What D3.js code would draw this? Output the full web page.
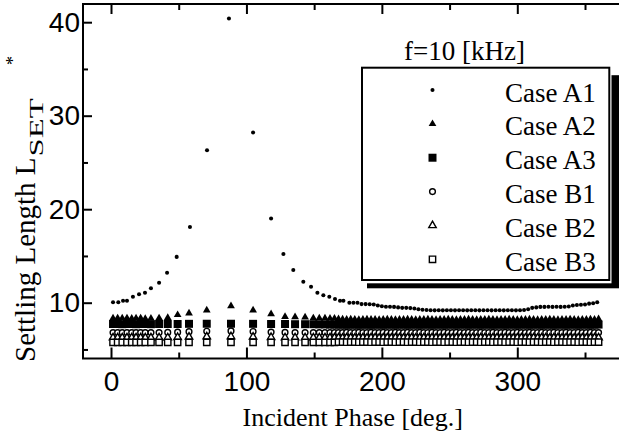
<!DOCTYPE html>
<html>
<head>
<meta charset="utf-8">
<script src="https://cdn.jsdelivr.net/npm/d3@7"></script>
<style>
  html, body { margin: 0; padding: 0; background: #fff; }
  svg { display: block; }
</style>
</head>
<body>
<div id="chart"></div>
<script>
// ---- data ----
// Case A1 has its own phase sampling, the other five cases share one
const phaseA1 = [1.5, 5.4, 8.9, 11.8, 16.2, 20.7, 25.1, 29.5, 35.5, 41.4, 48.5, 58.3, 70.9, 87.1,
  104.9, 118.2, 127.3, 134.6, 142, 147.7, 152.4, 156.8, 161.2, 165.4, 169.1, 171.6, 176, 179,
  182, 185, 188, 191, 194, 197, 200, 203, 206, 209, 212, 215, 218, 221, 224, 227, 230, 233, 236,
  239, 242, 245, 248, 251, 254, 257, 260, 263, 266, 269, 272, 275, 278, 281, 284, 287, 290, 293, 296, 299, 302, 305,
  308, 311, 314, 317, 320, 323, 326, 329, 332, 335, 338, 341, 344, 347, 350, 353, 356, 359];

const caseA1 = [10.04, 10.04, 10.2, 10.2, 10.64, 10.9, 11.07, 11.54, 12.14, 13.2, 14.9, 18.1, 26.3, 40.4,
  28.2, 19.0, 15.2, 13.5, 12.25, 11.7, 11.07, 10.8, 10.64, 10.4, 10.2, 10.2, 10.0, 10.0,
  10.0, 9.85, 9.85, 9.83, 9.8, 9.7, 9.62, 9.57, 9.57, 9.55, 9.5, 9.45, 9.45, 9.42, 9.38, 9.3, 9.25, 9.22, 9.2,
  9.18, 9.2, 9.18, 9.2, 9.2, 9.18, 9.2, 9.2, 9.18, 9.2, 9.2, 9.18, 9.2, 9.2, 9.18, 9.2, 9.2, 9.18, 9.2, 9.2, 9.18, 9.2, 9.22,
  9.3, 9.45, 9.5, 9.55, 9.55, 9.57, 9.55, 9.57, 9.55, 9.57, 9.6, 9.7, 9.75, 9.78, 9.8, 9.9, 9.95, 10.05];

const phaseB = [1.5, 4.9, 8.3, 11.8, 15.3, 18.5, 21.9, 25.3, 29.5, 35.5, 41.9, 49.2, 57.6, 70.7,
  88.6, 104.9, 118.2, 128.5, 135.9, 143.3, 149.4, 153.8, 158, 161.7, 165,
  168, 171, 174, 177, 180, 183, 186, 189, 192, 195, 198, 201, 204,
  207, 210, 213, 216, 219, 222, 225, 228, 231, 234, 237, 240, 243,
  246, 249, 252, 255, 258, 261, 264, 267, 270, 273, 276, 279, 282,
  285, 288, 291, 294, 297, 300, 303, 306, 309, 312, 315, 318, 321,
  324, 327, 330, 333, 336, 339, 342, 345, 348, 351, 354, 357, 360];

const caseA2 = [8.33, 8.35, 8.33, 8.35, 8.3, 8.33, 8.35, 8.28, 8.3, 8.35, 8.4, 8.7, 8.87, 9.2,
  9.65, 9.2, 8.8, 8.5, 8.47, 8.45, 8.35, 8.33, 8.33, 8.3, 8.3,
  8.25, 8.22, 8.2, 8.22, 8.2, 8.18, 8.2, 8.22, 8.2, 8.2, 8.18, 8.2, 8.22,
  8.2, 8.18, 8.2, 8.2, 8.22, 8.2, 8.18, 8.2, 8.2, 8.22, 8.2, 8.18, 8.2,
  8.2, 8.22, 8.2, 8.18, 8.2, 8.2, 8.22, 8.2, 8.18, 8.2, 8.2, 8.22, 8.2,
  8.18, 8.2, 8.2, 8.22, 8.2, 8.18, 8.2, 8.2, 8.22, 8.2, 8.18, 8.2, 8.2,
  8.22, 8.2, 8.18, 8.2, 8.2, 8.22, 8.2, 8.18, 8.2, 8.2, 8.22, 8.2, 8.25];

const caseA3 = [7.72, 7.72, 7.7, 7.72, 7.72, 7.7, 7.72, 7.72, 7.7, 7.72, 7.72, 7.72, 7.74, 7.75,
  7.75, 7.74, 7.72, 7.72, 7.7, 7.7, 7.7, 7.68, 7.68, 7.66, 7.66,
  7.65, 7.65, 7.64, 7.65, 7.65, 7.64, 7.65, 7.65, 7.64, 7.65, 7.65, 7.64, 7.65,
  7.65, 7.64, 7.65, 7.65, 7.64, 7.65, 7.65, 7.64, 7.65, 7.65, 7.64, 7.65, 7.65,
  7.64, 7.65, 7.65, 7.64, 7.65, 7.65, 7.64, 7.65, 7.65, 7.64, 7.65, 7.65, 7.64,
  7.65, 7.65, 7.64, 7.65, 7.65, 7.64, 7.65, 7.65, 7.64, 7.65, 7.65, 7.64, 7.65,
  7.65, 7.64, 7.65, 7.65, 7.64, 7.65, 7.65, 7.64, 7.65, 7.65, 7.64, 7.65, 7.66];

const caseB1 = [6.8, 6.8, 6.8, 6.8, 6.8, 6.8, 6.8, 6.8, 6.8, 6.8, 6.82, 6.85, 6.9, 6.95,
  6.98, 6.92, 6.86, 6.82, 6.8, 6.8, 6.8, 6.8, 6.8, 6.8, 6.8,
  6.8, 6.8, 6.82, 6.8, 6.8, 6.82, 6.8, 6.8, 6.82, 6.8, 6.8, 6.82, 6.8,
  6.8, 6.82, 6.8, 6.8, 6.82, 6.8, 6.8, 6.82, 6.8, 6.8, 6.82, 6.8, 6.8,
  6.82, 6.8, 6.8, 6.82, 6.8, 6.8, 6.82, 6.8, 6.8, 6.82, 6.8, 6.8, 6.82,
  6.8, 6.8, 6.82, 6.8, 6.8, 6.82, 6.8, 6.8, 6.82, 6.8, 6.8, 6.82, 6.8,
  6.8, 6.82, 6.8, 6.8, 6.82, 6.8, 6.8, 6.82, 6.8, 6.8, 6.82, 6.8, 6.8];

const caseB2 = [6.25, 6.25, 6.25, 6.25, 6.25, 6.25, 6.25, 6.25, 6.25, 6.26, 6.27, 6.3, 6.33, 6.36,
  6.38, 6.35, 6.3, 6.27, 6.25, 6.25, 6.25, 6.25, 6.25, 6.25, 6.25,
  6.25, 6.24, 6.25, 6.25, 6.24, 6.25, 6.25, 6.24, 6.25, 6.25, 6.24, 6.25, 6.25,
  6.24, 6.25, 6.25, 6.24, 6.25, 6.25, 6.24, 6.25, 6.25, 6.24, 6.25, 6.25, 6.24,
  6.25, 6.25, 6.24, 6.25, 6.25, 6.24, 6.25, 6.25, 6.24, 6.25, 6.25, 6.24, 6.25,
  6.25, 6.24, 6.25, 6.25, 6.24, 6.25, 6.25, 6.24, 6.25, 6.25, 6.24, 6.25, 6.25,
  6.24, 6.25, 6.25, 6.24, 6.25, 6.25, 6.24, 6.25, 6.25, 6.24, 6.25, 6.25, 6.25];

const caseB3 = [5.76, 5.76, 5.76, 5.76, 5.76, 5.76, 5.76, 5.76, 5.76, 5.76, 5.76, 5.76, 5.76, 5.76,
  5.76, 5.76, 5.76, 5.76, 5.76, 5.76, 5.76, 5.76, 5.76, 5.76, 5.76,
  5.78, 5.78, 5.77, 5.78, 5.78, 5.77, 5.78, 5.78, 5.77, 5.78, 5.78, 5.77, 5.78,
  5.78, 5.77, 5.78, 5.78, 5.77, 5.78, 5.78, 5.77, 5.78, 5.78, 5.77, 5.78, 5.78,
  5.77, 5.78, 5.78, 5.77, 5.78, 5.78, 5.77, 5.78, 5.78, 5.77, 5.78, 5.78, 5.77,
  5.78, 5.78, 5.77, 5.78, 5.78, 5.77, 5.78, 5.78, 5.77, 5.78, 5.78, 5.77, 5.78,
  5.78, 5.77, 5.78, 5.78, 5.77, 5.78, 5.78, 5.77, 5.78, 5.78, 5.77, 5.78, 5.78];

const caseLabels = ['Case A1', 'Case A2', 'Case A3', 'Case B1', 'Case B2', 'Case B3'];
const xMajorTicks = [0, 100, 200, 300];
const xMinorTicks = [50, 150, 250, 350];
const yMajorTicks = [10, 20, 30, 40];
const yMinorTicks = [5, 15, 25, 35];
const legendTitle = 'f=10 [kHz]';
const xTitle = 'Incident Phase [deg.]';
const yTitle = 'Settling Length L';

// ---- layout ----
const width = 619, height = 432;
const frame = { left: 83, top: 4, right: 640, bottom: 358.5 };
const serif = '"Liberation Serif", "Times New Roman", serif';
const sans = '"Liberation Sans", Arial, sans-serif';

const svg = d3.select('#chart').append('svg')
  .attr('width', width)
  .attr('height', height);

svg.append('rect').attr('width', width).attr('height', height).attr('fill', '#fff');

const x = d3.scaleLinear().domain([0, 300]).range([111, 517.3]);
const y = d3.scaleLinear().domain([10, 40]).range([302.7, 22.2]);

// marker styles, one per case
const markers = [
  { type: d3.symbolCircle, size: 13, filled: true },
  { type: d3.symbolTriangle, size: 26, filled: true },
  { type: d3.symbolSquare, size: 64, filled: true },
  { type: d3.symbolCircle, size: 26, filled: false },
  { type: d3.symbolTriangle, size: 24, filled: false },
  { type: d3.symbolSquare, size: 40, filled: false }
];

function drawSeries(g, xs, ys, m) {
  const pts = xs.map((p, i) => ({ p: p, v: ys[i] }));
  g.selectAll(null)
    .data(pts)
    .enter()
    .append('path')
    .attr('d', d3.symbol().type(m.type).size(m.size))
    .attr('transform', d => `translate(${x(d.p)},${y(d.v)})`)
    .attr('fill', m.filled ? '#000' : '#fff')
    .attr('stroke', m.filled ? 'none' : '#000')
    .attr('stroke-width', 1.4);
}

const plot = svg.append('g');
const seriesData = [
  [phaseA1, caseA1], [phaseB, caseA2], [phaseB, caseA3],
  [phaseB, caseB1], [phaseB, caseB2], [phaseB, caseB3]
];
seriesData.forEach((s, i) => drawSeries(plot, s[0], s[1], markers[i]));

// ---- frame and axes ----
svg.append('rect')
  .attr('x', frame.left).attr('y', frame.top)
  .attr('width', frame.right - frame.left).attr('height', frame.bottom - frame.top)
  .attr('fill', 'none').attr('stroke', '#000').attr('stroke-width', 2);

function styleAxis(g) {
  g.select('.domain').remove();
  g.selectAll('.tick line').attr('stroke', '#000').attr('stroke-width', 2);
  g.selectAll('.tick text').attr('fill', '#000');
}

svg.append('g')
  .attr('transform', `translate(0,${frame.bottom})`)
  .call(d3.axisBottom(x).tickValues(xMajorTicks).tickSizeInner(-11).tickSizeOuter(0).tickPadding(13))
  .call(styleAxis)
  .call(g => g.selectAll('text').attr('font-family', sans).attr('font-size', 28));

svg.append('g')
  .attr('transform', `translate(0,${frame.bottom})`)
  .call(d3.axisBottom(x).tickValues(xMinorTicks).tickSizeInner(-6).tickSizeOuter(0).tickFormat(''))
  .call(styleAxis);

svg.append('g')
  .attr('transform', `translate(0,${frame.top})`)
  .call(d3.axisTop(x).tickValues(xMajorTicks).tickSizeInner(-10).tickSizeOuter(0).tickFormat(''))
  .call(styleAxis);

svg.append('g')
  .attr('transform', `translate(0,${frame.top})`)
  .call(d3.axisTop(x).tickValues(xMinorTicks).tickSizeInner(-6).tickSizeOuter(0).tickFormat(''))
  .call(styleAxis);

svg.append('g')
  .attr('transform', `translate(${frame.left},0)`)
  .call(d3.axisLeft(y).tickValues(yMajorTicks).tickSizeInner(-9).tickSizeOuter(0).tickPadding(3))
  .call(styleAxis)
  .call(g => g.selectAll('text').attr('font-family', sans).attr('font-size', 28));

svg.append('g')
  .attr('transform', `translate(${frame.left},0)`)
  .call(d3.axisLeft(y).tickValues(yMinorTicks).tickSizeInner(-5).tickSizeOuter(0).tickFormat(''))
  .call(styleAxis);

// ---- titles ----
svg.append('text')
  .attr('x', 352.7).attr('y', 426)
  .attr('text-anchor', 'middle')
  .attr('font-family', serif).attr('font-size', 26)
  .text(xTitle);

// rotated y title: "Settling Length L" + stretched subscript SET + raised asterisk
const yLab = svg.append('g').attr('transform', 'translate(35,362) rotate(-90)');
const mainLab = yLab.append('text')
  .attr('x', 0).attr('y', 0)
  .attr('font-family', serif).attr('font-size', 29)
  .text(yTitle);
const mainLen = mainLab.node().getComputedTextLength();
yLab.append('text')
  .attr('x', mainLen + 1).attr('y', 8)
  .attr('font-family', serif).attr('font-size', 19)
  .attr('textLength', 58).attr('lengthAdjust', 'spacingAndGlyphs')
  .text('SET');
yLab.append('text')
  .attr('x', 297).attr('y', -16)
  .attr('font-family', serif).attr('font-size', 18)
  .text('*');

// ---- legend ----
const legend = { left: 362, top: 67.7, right: 609.3, bottom: 280 };
svg.append('rect')
  .attr('x', legend.left + 5).attr('y', legend.top + 7.5)
  .attr('width', 260).attr('height', legend.bottom - legend.top + 0.8)
  .attr('fill', '#000');
svg.append('rect')
  .attr('x', legend.left - 2).attr('y', legend.top - 2)
  .attr('width', legend.right - legend.left + 4.2).attr('height', legend.bottom - legend.top + 5.3)
  .attr('fill', '#fff');
svg.append('rect')
  .attr('x', legend.left).attr('y', legend.top)
  .attr('width', legend.right - legend.left).attr('height', legend.bottom - legend.top)
  .attr('fill', '#fff').attr('stroke', '#000').attr('stroke-width', 2);

svg.append('text')
  .attr('x', 404).attr('y', 60)
  .attr('font-family', serif).attr('font-size', 27)
  .text(legendTitle);

const rowY = i => 90 + i * 33.86;
caseLabels.forEach((label, i) => {
  const m = markers[i];
  svg.append('path')
    .attr('d', d3.symbol().type(m.type).size(m.size))
    .attr('transform', `translate(432.5,${rowY(i)})`)
    .attr('fill', m.filled ? '#000' : '#fff')
    .attr('stroke', m.filled ? 'none' : '#000')
    .attr('stroke-width', 1.4);
  svg.append('text')
    .attr('x', 505).attr('y', rowY(i) + 11.5)
    .attr('font-family', serif).attr('font-size', 27)
    .text(label);
});
</script>
</body>
</html>
